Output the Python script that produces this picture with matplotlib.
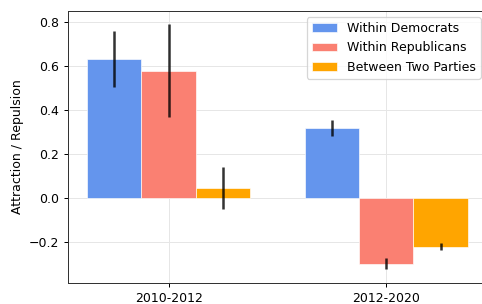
import matplotlib.pyplot as plt
import numpy as np

periods = ['2010-2012', '2012-2020']
labels = ['Within Democrats', 'Within Republicans', 'Between Two Parties']
colors = ['cornflowerblue', 'salmon', 'orange']

dem = [0.632, 0.320]
dem_err = [0.128, 0.037]
rep = [0.580, -0.298]
rep_err = [0.212, 0.025]
btw = [0.046, -0.220]
btw_err = [0.094, 0.015]

values = [dem, rep, btw]
errors = [dem_err, rep_err, btw_err]

fig = plt.figure(figsize=(483 / 90, 304 / 90), dpi=90)
ax = fig.add_axes([0.1408, 0.069, 0.867, 0.895])

x = np.arange(len(periods))
width = 0.25
for i in range(3):
    ax.bar(x + (i - 1) * width, values[i], width, color=colors[i], label=labels[i],
           yerr=errors[i], error_kw=dict(ecolor='black', elinewidth=2, alpha=0.8),
           edgecolor='white', linewidth=0.5, zorder=2)

ax.set_xticks(x)
ax.set_xticklabels(periods)
ax.set_ylabel('Attraction / Repulsion')
ax.set_ylim(-0.385, 0.851)
ax.grid(True, color='#e6e6e6', linewidth=0.8, zorder=0)
ax.set_axisbelow(True)
ax.legend(loc='upper right')
for s in ax.spines.values():
    s.set_color('#333333')

fig.savefig('out.png', dpi=90)
